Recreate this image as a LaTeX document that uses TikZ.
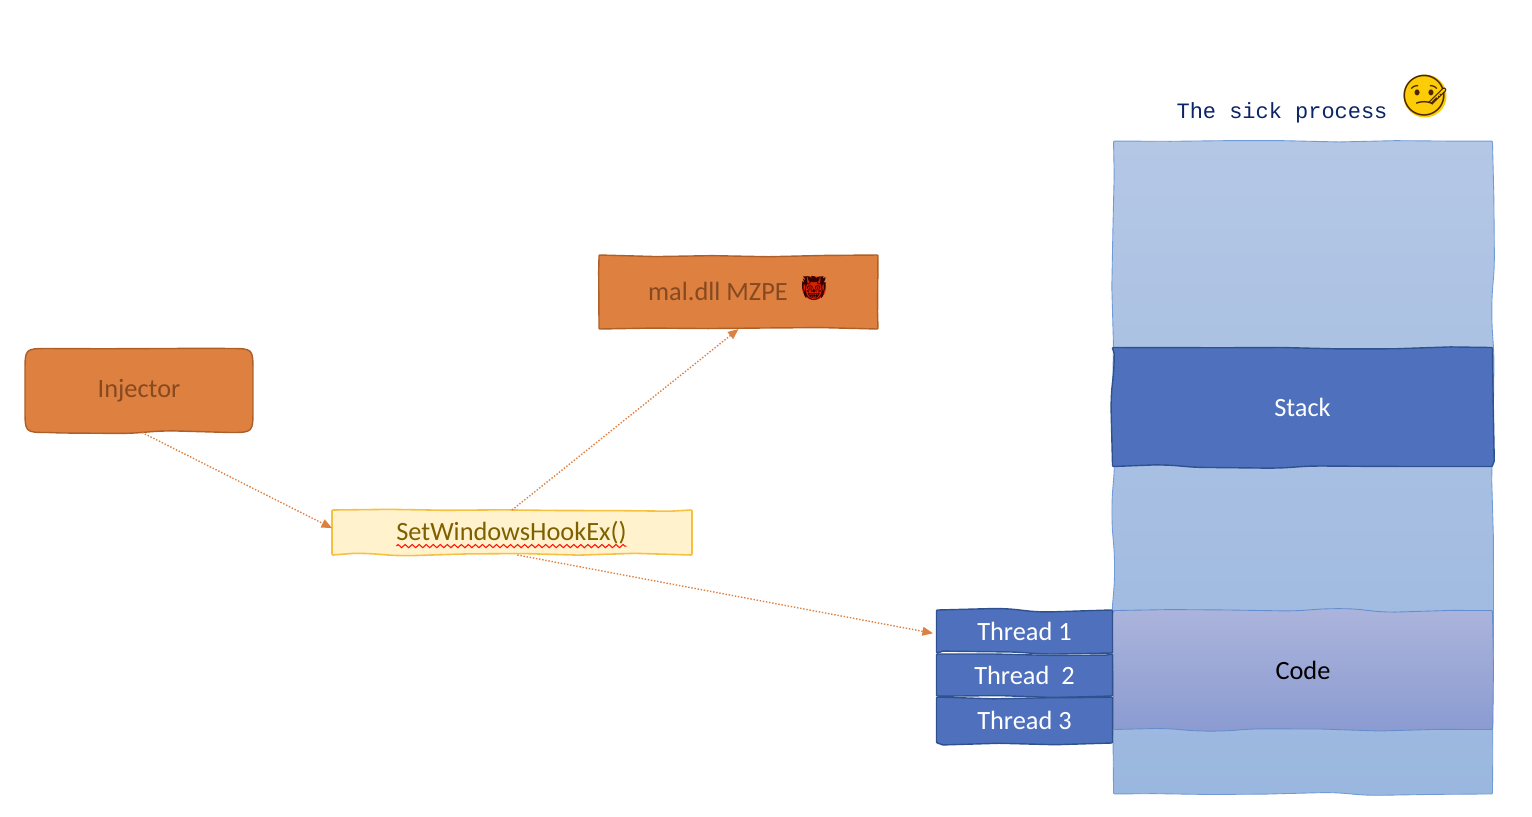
\documentclass[tikz,border=0pt]{standalone}
\usepackage{xcolor}
\usepackage{fontspec}
\setmainfont{Carlito}
\setmonofont{Liberation Mono}
\newfontfamily\emojifont{Noto Emoji}
\usepackage{tikz}
\usetikzlibrary{arrows.meta, positioning, backgrounds, decorations.pathmorphing}

\definecolor{boxorange}{HTML}{DD8040}
\definecolor{lineorange}{HTML}{AE5F28}
\definecolor{textorange}{HTML}{874A20}
\definecolor{hookfill}{HTML}{FFF2CC}
\definecolor{hookline}{HTML}{F6C142}
\definecolor{hookink}{HTML}{7F6000}
\definecolor{memblue}{HTML}{4F71BD}
\definecolor{memline}{HTML}{2F528F}
\definecolor{procline}{HTML}{6F9BD8}
\definecolor{proctop}{HTML}{B4C7E5}
\definecolor{procbottom}{HTML}{9AB7DF}
\definecolor{codetop}{HTML}{ABB4DB}
\definecolor{codebottom}{HTML}{8B9BD1}
\definecolor{titleblue}{HTML}{0B2466}

% hand drawn edge
\pgfdeclaredecoration{wobble}{start}{
    \state{start}[width=+0pt, next state=wave, persistent precomputation={\gdef\wobblelast{0pt}}]{}
    \state{wave}[width=\pgfdecorationsegmentlength]{
        \pgfmathsetlengthmacro\wobblenew{rand*\pgfdecorationsegmentamplitude}
        \pgfpathcurveto{\pgfpoint{0.5\pgfdecorationsegmentlength}{\wobblelast}}
            {\pgfpoint{0.5\pgfdecorationsegmentlength}{\wobblenew}}
            {\pgfpoint{\pgfdecorationsegmentlength}{\wobblenew}}
        \xdef\wobblelast{\wobblenew}
    }
    \state{final}{\pgfpathlineto{\pgfpointdecoratedpathlast}}
}

% outline with wavy edges behind a named node: corner radius, node, style
\newcommand{\sketchbox}[3]{%
    \begin{pgfonlayer}{background}
    \draw[#3] ([xshift=#1]#2.north west)
        decorate {-- ([xshift=-#1]#2.north east)} .. controls (#2.north east) .. ([yshift=-#1]#2.north east)
        decorate {-- ([yshift=#1]#2.south east)} .. controls (#2.south east) .. ([xshift=-#1]#2.south east)
        decorate {-- ([xshift=#1]#2.south west)} .. controls (#2.south west) .. ([yshift=#1]#2.south west)
        decorate {-- ([yshift=-#1]#2.north west)} .. controls (#2.north west) .. cycle;
    \end{pgfonlayer}}

\tikzset{
    wavy/.style={decoration={wobble, segment length=32pt, amplitude=1.1pt}},
    label/.style={inner sep=0pt, outer sep=0pt, anchor=center, align=center, font=\fontsize{15}{17}\selectfont},
    orangebox/.style={wavy, fill=boxorange, draw=lineorange, line width=0.8pt},
    membox/.style={wavy, fill=memblue, draw=memline, line width=0.8pt},
    procbox/.style={wavy, draw=procline, line width=0.5pt, top color=proctop, bottom color=procbottom},
    codebox/.style={wavy, draw=procline!70!memblue, line width=0.5pt, top color=codetop, bottom color=codebottom},
    hookbox/.style={wavy, fill=hookfill, draw=hookline, line width=0.9pt},
    flow/.style={draw=boxorange, densely dotted, line width=0.8pt, -{Triangle[length=6pt, width=5pt]}}
}

\begin{document}
\begin{tikzpicture}[x=0.02cm, y=-0.02cm]
    \useasboundingbox (0,0) rectangle (1532,816);
    \pgfmathsetseed{7}

    % The process and its regions
    \node[label, minimum width=7.58cm, minimum height=13.06cm] (process) at (1303,467.5) {};
    \sketchbox{0.5pt}{process}{procbox}
    \node[label, text=white, minimum width=7.6cm, minimum height=2.38cm] (stack) at (1302.5,407) {Stack};
    \sketchbox{0.5pt}{stack}{membox}
    \node[label, text=black, minimum width=7.58cm, minimum height=2.38cm] (code) at (1303,670) {Code};
    \sketchbox{0.5pt}{code}{codebox}
    \node[font=\ttfamily\fontsize{12.5}{15}\selectfont, text=titleblue, anchor=center] (title) at (1282,112.5) {The sick process};
    \node[inner sep=0pt, text=black!70!orange, font=\emojifont\fontsize{23}{23}\selectfont] (sickface) at (1425,96) {🤒};
    \begin{pgfonlayer}{background}
        \fill[yellow!65!orange] (sickface) circle[radius=0.43cm];
    \end{pgfonlayer}

    % Threads
    \node[label, text=white, minimum width=3.52cm, minimum height=0.86cm] (thread1) at (1024.5,631.5) {Thread 1};
    \sketchbox{0.5pt}{thread1}{membox}
    \node[label, text=white, minimum width=3.52cm, minimum height=0.84cm] (thread2) at (1024.5,675) {Thread\ \ 2};
    \sketchbox{0.5pt}{thread2}{membox}
    \node[label, text=white, minimum width=3.52cm, minimum height=0.92cm] (thread3) at (1024.5,720) {Thread 3};
    \sketchbox{0.5pt}{thread3}{membox}

    % Injector side
    \node[label, text=textorange, minimum width=4.56cm, minimum height=1.68cm] (injector) at (139,390.5) {Injector};
    \sketchbox{13pt}{injector}{orangebox}
    \node[label, minimum width=5.58cm, minimum height=1.48cm] (mal) at (738.5,292) {};
    \sketchbox{0.5pt}{mal}{orangebox}
    \node[label, text=textorange] (maltext) at (718,291.5) {mal.dll MZPE};
    \node[inner sep=0pt, text=black!80!red, font=\emojifont\fontsize{13.5}{14}\selectfont] (malface) at (814,288) {👹};
    \begin{pgfonlayer}{background}
        \fill[red!70!orange!85!black] (malface) circle[radius=0.24cm];
    \end{pgfonlayer}
    \node[label, minimum width=7.2cm, minimum height=0.9cm] (hook) at (512,532.5) {};
    \sketchbox{0.5pt}{hook}{hookbox}
    \node[label, text=hookink] (hookname) at (511.5,533) {SetWindowsHookEx()};

    % Spelling mark under the call name
    \draw[red!85!orange, line width=0.6pt, decorate, decoration={zigzag, segment length=4pt, amplitude=0.9pt}]
        ([yshift=-3pt]hookname.base west) -- ([yshift=-3pt]hookname.base east);

    % Flow
    \draw[flow] ([xshift=1.7pt]injector.south) -- ([yshift=2.5pt]hook.west);
    \draw[flow] (hook.north) -- (mal.south);
    \draw[flow] ([xshift=3pt]hook.south) -- ([xshift=-2pt, yshift=-1pt]thread1.west);
\end{tikzpicture}
\end{document}
